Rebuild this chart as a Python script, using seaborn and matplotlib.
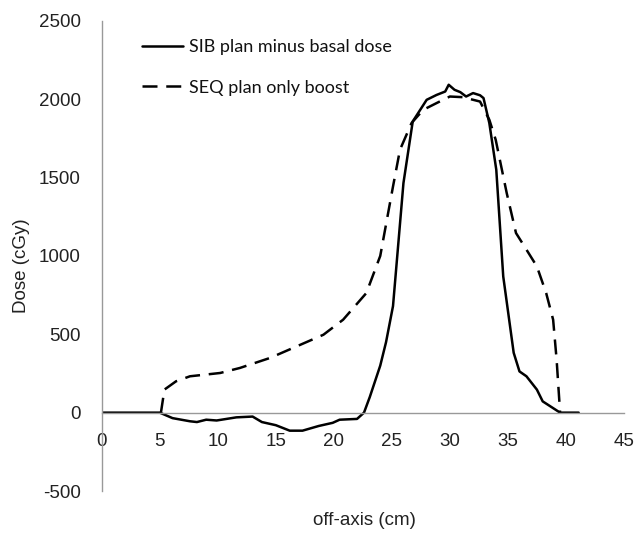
import matplotlib
matplotlib.use('Agg')
import matplotlib.pyplot as plt
import seaborn as sns

sib_x = [0, 5.0, 6.1, 7.6, 8.2, 9.0, 9.9, 11.6, 13.0, 13.8, 15.0, 16.2, 17.3, 18.7,
         19.9, 20.5, 22.0, 22.6, 23.1, 24.0, 24.5, 25.1, 26.0, 26.8, 28.0, 28.85,
         29.6, 29.9, 30.4, 30.9, 31.4, 32.0, 32.6, 32.9, 33.4, 34.0, 34.6, 35.5,
         36.0, 36.6, 37.5, 38.0, 39.5, 41.1]
sib_y = [0, 0, -35, -55, -60, -45, -50, -30, -25, -60, -80, -115, -115, -85,
         -65, -45, -40, 0, 100, 300, 450, 680, 1465, 1858, 1996, 2027,
         2049, 2092, 2060, 2045, 2017, 2039, 2025, 2007, 1848, 1550, 869, 382,
         263, 232, 147, 72, 0, 0]

seq_x = [5.1, 5.4, 6.4, 7.6, 10.2, 11.9, 14.5, 16.8, 19.1, 20.8, 22.8, 24.0,
         25.1, 25.7, 26.7, 27.7, 28.85, 30.0, 31.1, 32.6, 33.4, 33.95, 34.9,
         35.7, 36.6, 37.5, 38.3, 38.9, 39.2, 39.5]
seq_y = [0, 147, 200, 232, 253, 285, 349, 423, 497, 593, 763, 1000,
         1443, 1677, 1848, 1932, 1975, 2017, 2013, 1985, 1869, 1741, 1401,
         1146, 1040, 933, 763, 593, 338, 0]

series_labels = ["SIB plan minus basal dose", "SEQ plan only boost"]
x_ticks = [0, 5, 10, 15, 20, 25, 30, 35, 40, 45]
y_ticks = [-500, 0, 500, 1000, 1500, 2000, 2500]

sns.set_style('white')
plt.rcParams['font.family'] = ['Liberation Sans', 'DejaVu Sans']
plt.rcParams['axes.unicode_minus'] = False

fig = plt.figure(figsize=(6.36, 5.34), dpi=100)
ax = fig.add_axes([0.160, 0.0805, 0.821, 0.8805])

sns.lineplot(x=sib_x, y=sib_y, color='black', lw=1.8, ax=ax,
             label=series_labels[0], sort=False, estimator=None)
sns.lineplot(x=seq_x, y=seq_y, color='black', lw=1.8, ax=ax,
             linestyle=(0, (6, 3.5)), label=series_labels[1],
             sort=False, estimator=None)

ax.set_xlim(0, 45)
ax.set_ylim(-500, 2500)
ax.set_xticks(x_ticks)
ax.set_yticks(y_ticks)
ax.tick_params(axis='both', labelsize=13.5, colors='#222222', length=5,
               width=1, direction='out')
ax.tick_params(axis='x', color='#999999', pad=10)
ax.tick_params(axis='y', color='#999999', pad=10)

for s in ['top', 'right']:
    ax.spines[s].set_visible(False)
ax.spines['bottom'].set_position(('data', 0))
for s in ['left', 'bottom']:
    ax.spines[s].set_color('#999999')
    ax.spines[s].set_linewidth(1)

ax.set_xlabel('off-axis (cm)', fontsize=13.5, color='#222222')
ax.set_ylabel('Dose (cGy)', fontsize=13.5, color='#222222')
ax.xaxis.set_label_coords(0.504, -0.045)
ax.yaxis.set_label_coords(-0.138, 0.48)

leg = ax.legend(loc='upper left', bbox_to_anchor=(0.045, 0.995), frameon=False,
                prop={'family': ['Lato', 'DejaVu Sans'], 'size': 13},
                handlelength=2.3, labelspacing=1.35, handletextpad=0.35)
for t in leg.get_texts():
    t.set_color('#111111')

fig.savefig('out.png', dpi=100)
